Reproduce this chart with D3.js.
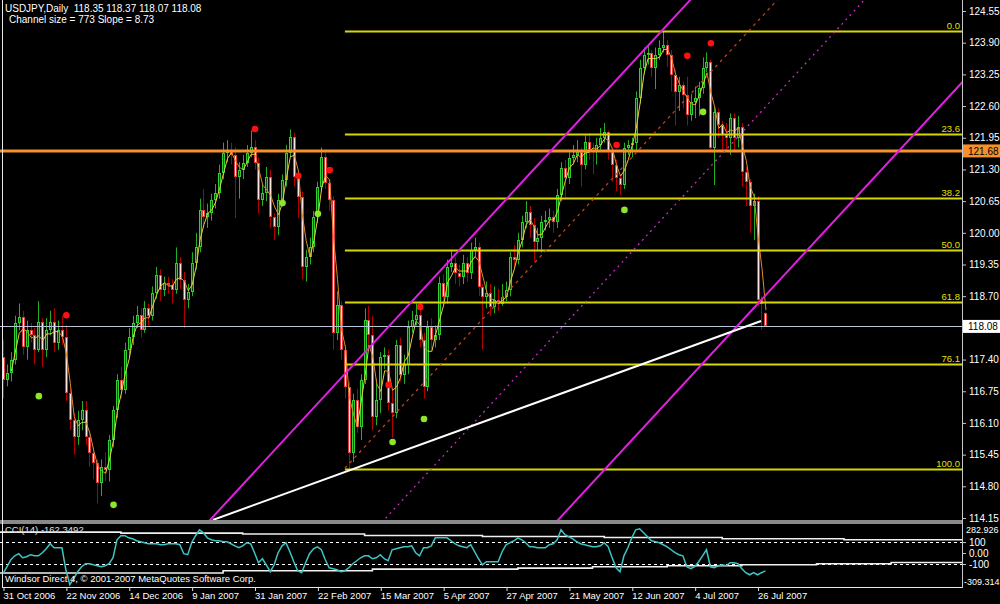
<!DOCTYPE html>
<html>
<head>
<meta charset="utf-8">
<script src="https://cdn.jsdelivr.net/npm/d3@7/dist/d3.min.js"></script>
<style>
  html, body { margin: 0; padding: 0; background: #000; }
  svg { display: block; }
  text { font-family: "Liberation Sans", Arial, sans-serif; }
</style>
</head>
<body>
<div id="chart"></div>
<script>
// ---- price data (USDJPY daily) ----
const opens = [117.45,116.98,117.12,117.39,118.15,118.27,117.66,118.01,117.90,117.60,118.17,117.60,118.01,118.17,117.74,118.01,117.86,116.71,116.16,115.81,116.16,116.37,115.81,115.48,115.28,114.87,115.20,115.13,115.75,116.37,116.98,116.78,117.60,117.86,118.15,118.31,118.01,118.46,118.29,118.77,119.14,118.83,118.97,118.93,118.83,119.38,119.03,118.62,118.79,119.38,119.71,120.47,120.32,120.41,120.67,120.82,121.23,121.64,121.70,121.60,121.15,121.29,121.43,121.64,121.76,121.43,120.67,120.82,121.15,120.32,120.12,120.67,121.08,121.64,121.97,121.15,120.74,119.30,119.50,119.71,120.32,120.94,121.56,121.02,120.67,117.95,118.52,117.60,116.84,115.48,116.57,116.02,116.98,118.21,117.90,116.22,116.57,117.45,117.50,116.51,116.30,117.70,117.08,117.29,118.07,118.21,118.31,117.80,116.84,118.07,117.80,117.90,118.97,118.68,119.30,119.38,119.18,119.09,119.38,119.18,119.65,119.71,118.89,118.68,118.77,118.48,118.62,118.55,118.68,118.83,119.50,119.45,119.85,120.22,120.43,120.16,119.81,119.89,120.22,120.26,120.32,120.22,120.78,121.33,121.12,121.54,121.60,121.66,121.39,121.86,121.70,121.66,121.80,121.95,122.07,121.66,121.39,121.12,120.98,121.74,121.80,121.85,122.77,123.38,123.65,123.69,123.38,123.65,123.79,123.85,123.65,123.24,122.89,123.03,122.83,122.42,122.68,122.77,122.97,123.38,123.50,121.74,122.48,122.21,122.01,121.95,122.36,121.95,122.17,121.25,121.04,120.55,120.65,118.62,118.35];
const highs = [117.80,117.30,117.55,118.30,118.55,118.40,118.20,118.15,118.05,118.60,118.25,118.25,118.40,118.45,118.20,118.30,118.10,116.80,116.30,116.35,116.55,116.55,115.95,115.60,115.35,115.35,115.50,115.85,116.45,117.10,117.25,117.75,118.05,118.30,118.50,118.45,118.60,118.55,118.90,119.30,119.25,119.10,119.10,119.05,119.70,119.50,119.20,118.95,119.60,120.00,120.70,120.90,120.60,120.80,121.00,121.40,121.85,121.90,121.85,121.75,121.45,121.60,121.80,122.10,121.90,121.55,121.00,121.35,121.30,120.40,120.80,121.20,121.80,122.12,122.05,121.25,120.85,119.65,119.90,120.45,121.05,121.75,121.70,121.10,120.75,118.80,118.60,117.70,116.95,116.70,116.80,117.10,118.45,118.50,118.30,117.00,117.55,117.65,117.60,116.80,117.80,117.85,117.50,118.20,118.40,118.55,118.60,117.95,118.20,118.25,118.10,119.10,119.15,119.45,119.65,119.50,119.35,119.55,119.50,119.80,119.90,119.80,118.95,119.00,118.95,118.90,118.85,118.95,119.00,119.60,119.75,120.00,120.35,120.65,120.55,120.30,120.10,120.35,120.45,120.50,120.45,120.90,121.45,121.50,121.65,121.80,121.90,121.75,122.00,122.05,121.85,121.95,122.15,122.25,122.10,121.75,121.50,121.20,121.85,121.90,121.95,122.90,123.55,123.80,123.85,123.75,123.80,123.95,124.14,123.95,123.75,123.35,123.20,123.10,123.20,122.85,123.00,123.10,123.60,123.70,123.55,122.60,122.55,122.30,122.25,122.45,122.45,122.40,122.25,121.35,121.10,120.80,120.75,118.70,118.37];
const lows = [116.60,116.85,116.95,117.30,118.00,117.50,117.40,117.75,117.30,117.55,117.25,117.45,117.90,117.55,117.60,117.70,116.55,115.95,115.45,115.65,115.95,115.65,115.20,114.95,114.45,114.60,114.90,114.90,115.60,116.20,116.60,116.70,117.45,117.70,118.05,117.85,117.95,118.10,118.20,118.65,118.60,118.70,118.75,118.55,118.75,118.85,118.05,118.45,118.70,119.25,119.60,120.15,120.10,120.25,120.50,120.70,121.10,121.45,121.40,120.30,120.70,121.10,121.35,121.55,121.30,120.40,120.55,120.65,120.10,119.85,119.95,120.55,120.95,121.55,120.95,120.30,119.05,119.00,119.35,119.60,120.20,120.85,120.90,120.45,117.60,117.80,117.40,116.60,115.15,115.30,115.90,115.75,116.90,117.70,115.95,116.05,116.30,117.20,116.35,115.80,116.20,116.95,116.90,117.10,117.95,118.10,117.65,116.60,116.75,117.60,117.65,117.80,118.50,118.55,119.20,118.95,118.90,118.95,119.00,119.05,119.50,118.70,117.60,118.45,118.30,118.35,118.40,118.50,118.60,118.70,119.30,119.35,119.70,120.10,119.90,119.40,119.65,119.60,120.05,120.10,120.00,120.10,120.65,120.70,121.00,121.40,121.45,120.95,121.30,121.50,121.20,121.40,121.70,121.85,121.50,121.05,120.85,120.78,120.90,121.60,121.55,121.70,122.65,123.25,123.45,123.20,122.95,123.55,123.70,123.40,122.90,122.20,122.50,122.55,122.20,122.30,122.35,122.40,122.85,123.30,121.65,120.98,121.95,121.70,121.70,121.60,121.70,121.75,120.95,120.55,120.00,119.85,118.50,118.01,118.07];
const closes = [116.98,117.12,117.39,118.15,118.27,117.66,118.01,117.90,117.60,118.17,117.60,118.01,118.17,117.74,118.01,117.86,116.71,116.16,115.81,116.16,116.37,115.81,115.48,115.28,114.87,115.20,115.13,115.75,116.37,116.98,116.78,117.60,117.86,118.15,118.31,118.01,118.46,118.29,118.77,119.14,118.83,118.97,118.93,118.83,119.38,119.03,118.62,118.79,119.38,119.71,120.47,120.32,120.41,120.67,120.82,121.23,121.64,121.70,121.60,121.15,121.29,121.43,121.64,121.76,121.43,120.67,120.82,121.15,120.32,120.12,120.67,121.08,121.64,121.97,121.15,120.74,119.30,119.50,119.71,120.32,120.94,121.56,121.02,120.67,117.95,118.52,117.60,116.84,115.48,116.57,116.02,116.98,118.21,117.90,116.22,116.57,117.45,117.50,116.51,116.30,117.70,117.08,117.29,118.07,118.21,118.31,117.80,116.84,118.07,117.80,117.90,118.97,118.68,119.30,119.38,119.18,119.09,119.38,119.18,119.65,119.71,118.89,118.68,118.77,118.48,118.62,118.55,118.68,118.83,119.50,119.45,119.85,120.22,120.43,120.16,119.81,119.89,120.22,120.26,120.32,120.22,120.78,121.33,121.12,121.54,121.60,121.66,121.39,121.86,121.70,121.66,121.80,121.95,122.07,121.66,121.39,121.12,120.98,121.74,121.80,121.85,122.77,123.38,123.65,123.69,123.38,123.65,123.79,123.85,123.65,123.24,122.89,123.03,122.83,122.42,122.68,122.77,122.97,123.38,123.50,121.74,122.48,122.21,122.01,121.95,122.36,121.95,122.17,121.25,121.04,120.55,120.65,118.62,118.54,118.08];

// CCI(14) values
const cciValues = [-188,-125,-61,-25,-6,-43,-34,-15,-25,-25,3,39,85,48,48,48,-152,-289,-234,-170,-125,-97,-97,-107,-116,-125,-116,-97,-43,121,158,158,139,130,112,103,94,85,85,85,76,76,85,85,85,76,-6,-15,94,158,212,185,139,121,112,112,103,103,85,66,48,66,94,85,3,-88,-52,-107,-170,-107,3,66,94,12,-79,-161,-179,-88,-6,39,57,30,-61,-134,-143,-152,-170,-161,-134,-97,-70,-43,-25,-25,-52,-43,-15,-52,-70,30,39,48,57,57,66,3,-25,48,48,66,139,139,139,139,112,85,66,57,48,76,12,-52,-107,-79,-79,-79,-79,12,76,94,112,139,121,94,57,57,48,48,48,76,85,121,212,167,148,130,103,85,76,66,57,57,66,94,57,-43,-134,-170,-25,48,139,212,221,185,148,112,103,94,76,57,30,3,-15,-25,-125,-143,-125,-79,-25,30,-125,-134,-116,-107,-116,-88,-88,-97,-143,-179,-198,-179,-198,-179,-162];
const cciUpperStepBars = [-1, 30, 61, 92, 122, 153, 183, 214, 245];
const cciUpperStepValues = [191, 182, 173, 160, 151, 142, 130, 121, 121];
const cciLowerStepBars = [-1, 56, 94, 131, 150, 169, 188, 207, 226, 245];
const cciLowerStepValues = [-182, -161, -146, -137, -125, -116, -107, -97, -86, -86];

// fractal-style dots
const redDotBars = [16, 64, 75, 83, 98, 106, 156, 174, 180];
const redDotPrices = [118.31, 122.13, 121.17, 121.29, 116.88, 118.48, 121.80, 123.63, 123.89];
const greenDotBars = [9, 28, 71, 80, 99, 107, 158, 178];
const greenDotPrices = [116.65, 114.42, 120.61, 120.39, 115.71, 116.18, 120.47, 122.48];

// objects
const fibLevels = [0, 23.6, 38.2, 50.0, 61.8, 76.1, 100];
const fibLabels = ["0.0", "23.6", "38.2", "50.0", "61.8", "76.1", "100.0"];
const fibHigh = 124.14, fibLow = 115.155, fibStartBar = 87;
const channelSlope = 0.0873, channelSize = 7.73;
const channelAnchor = {bar: 192.9, price: 118.62};
const whiteLine = [{bar: 53.4, price: 114.11}, {bar: 192.9, price: 118.19}];
const orangeLevel = 121.68;
const bidLevel = 118.08;

// axes
const priceTicks = [124.55, 123.90, 123.25, 122.60, 121.95, 121.30, 120.65, 120.00, 119.35, 118.70, 118.05, 117.40, 116.75, 116.10, 115.45, 114.80, 114.15];
const dateTickBars = [0, 16, 32, 48, 64, 80, 96, 112, 128, 144, 160, 176, 192];
const dateLabels = ["31 Oct 2006", "22 Nov 2006", "14 Dec 2006", "9 Jan 2007", "31 Jan 2007", "22 Feb 2007", "15 Mar 2007", "5 Apr 2007", "27 Apr 2007", "21 May 2007", "12 Jun 2007", "4 Jul 2007", "26 Jul 2007"];

const W = 1000, H = 604;
const axisX = 962, mainBottom = 520, cciTop = 522, cciBottom = 587;

const svg = d3.select("#chart").append("svg")
    .attr("width", W).attr("height", H)
    .style("background", "#000");

const x = d3.scaleLinear().domain([0, 194]).range([3, 3 + 194 * 3.93]);
const y = d3.scaleLinear().domain([114.15, 124.55]).range([518, 11]);
const yc = d3.scaleLinear().domain([-309.314, 282.926]).range([cciBottom, cciTop]);

const defs = svg.append("defs");
defs.append("clipPath").attr("id", "clipMain")
    .append("rect").attr("x", 0).attr("y", 0).attr("width", axisX).attr("height", mainBottom);
defs.append("clipPath").attr("id", "clipCci")
    .append("rect").attr("x", 0).attr("y", cciTop + 2).attr("width", axisX).attr("height", cciBottom - cciTop - 2);

const bars = opens.map((o, i) => ({i: i, o: o, h: highs[i], l: lows[i], c: closes[i]}));

// ---- candles ----
const main = svg.append("g").attr("clip-path", "url(#clipMain)");
const cg = main.append("g");
bars.forEach(d => {
    const cx = Math.round(x(d.i));
    const bull = d.c >= d.o;
    cg.append("line")
        .attr("x1", cx + 0.5).attr("x2", cx + 0.5)
        .attr("y1", y(d.h)).attr("y2", y(d.l))
        .attr("stroke", bull ? "#22b022" : "#b00000").attr("stroke-width", 1);
    const top = Math.round(y(Math.max(d.o, d.c)));
    const hgt = Math.max(1, Math.round(y(Math.min(d.o, d.c))) - top);
    cg.append("rect")
        .attr("x", cx - 1).attr("y", top).attr("width", 3).attr("height", hgt)
        .attr("fill", bull ? "#30d030" : "#e03a3a");
    if (hgt > 2) {
        cg.append("rect")
            .attr("x", cx).attr("y", top + 1).attr("width", 1).attr("height", hgt - 2)
            .attr("fill", bull ? "#0c480c" : "#ffe4e4");
    }
});

// moving average (3) through the candles
const ma = closes.map((c, i) => i < 2 ? null : d3.mean(closes.slice(i - 2, i + 1)));
for (let i = 3; i < ma.length; i++) {
    main.append("line")
        .attr("x1", x(i - 1) + 0.5).attr("y1", y(ma[i - 1]))
        .attr("x2", x(i) + 0.5).attr("y2", y(ma[i]))
        .attr("stroke", ma[i] >= ma[i - 1] ? "#e8cf3a" : "#de8a2c")
        .attr("stroke-width", 1);
}

// dots
main.selectAll(".rdot").data(redDotBars).enter().append("circle")
    .attr("cx", d => x(d) + 0.5).attr("cy", (d, k) => y(redDotPrices[k]))
    .attr("r", 3.3).attr("fill", "#ff1010");
main.selectAll(".gdot").data(greenDotBars).enter().append("circle")
    .attr("cx", d => x(d) + 0.5).attr("cy", (d, k) => y(greenDotPrices[k]))
    .attr("r", 3.3).attr("fill", "#8ee62a");

// ---- objects ----
const fibPrice = lvl => fibHigh - lvl / 100 * (fibHigh - fibLow);
fibLevels.forEach((lvl, k) => {
    const py = Math.round(y(fibPrice(lvl))) + 0.5;
    main.append("line").attr("x1", x(fibStartBar)).attr("x2", axisX)
        .attr("y1", py).attr("y2", py)
        .attr("stroke", "#d8d800").attr("stroke-width", 2);
    main.append("text").attr("x", 960).attr("y", py - 3)
        .attr("text-anchor", "end").attr("fill", "#e0e000")
        .style("font-size", "9.5px").text(fibLabels[k]);
});

main.append("line").attr("x1", 0).attr("x2", axisX)
    .attr("y1", y(orangeLevel)).attr("y2", y(orangeLevel))
    .attr("stroke", "#f5902a").attr("stroke-width", 3);
main.append("line").attr("x1", 0).attr("x2", axisX)
    .attr("y1", Math.round(y(bidLevel)) + 0.5).attr("y2", Math.round(y(bidLevel)) + 0.5)
    .attr("stroke", "#b8c6d8").attr("stroke-width", 1);

const chanPrice = (bar, frac) => channelAnchor.price + channelSlope * (bar - channelAnchor.bar) + frac * channelSize;
const chanLine = (frac, fromBar, color, width, dash) => {
    main.append("line")
        .attr("x1", x(fromBar)).attr("y1", y(chanPrice(fromBar, frac)))
        .attr("x2", x(260)).attr("y2", y(chanPrice(260, frac)))
        .attr("stroke", color).attr("stroke-width", width)
        .attr("stroke-dasharray", dash);
};
chanLine(0, 0, "#e020e0", 2, null);
chanLine(1, 0, "#e020e0", 2, null);
chanLine(0.5, 0, "#d030d0", 1.2, "2,4");
chanLine(0.75, fibStartBar, "#cc4422", 1.2, "3,4");

main.append("line")
    .attr("x1", x(whiteLine[0].bar)).attr("y1", y(whiteLine[0].price))
    .attr("x2", x(whiteLine[1].bar)).attr("y2", y(whiteLine[1].price))
    .attr("stroke", "#ffffff").attr("stroke-width", 2);

// ---- frame ----
svg.append("rect").attr("x", 0).attr("y", mainBottom).attr("width", axisX).attr("height", 4).attr("fill", "#8a8a8a");
svg.append("line").attr("x1", 2.5).attr("x2", 2.5).attr("y1", 0).attr("y2", cciBottom).attr("stroke", "#e8e8e8");
svg.append("line").attr("x1", axisX + 0.5).attr("x2", axisX + 0.5).attr("y1", 0).attr("y2", cciBottom + 1).attr("stroke", "#c8c8c8");
svg.append("line").attr("x1", 2).attr("x2", axisX).attr("y1", cciBottom + 0.5).attr("y2", cciBottom + 0.5).attr("stroke", "#e8e8e8");

// ---- price axis ----
const pAxis = svg.append("g").attr("transform", `translate(${axisX},0)`)
    .call(d3.axisRight(y).tickValues(priceTicks).tickFormat(d3.format(".2f")).tickSize(4).tickPadding(3));
pAxis.select(".domain").remove();
pAxis.selectAll("line").attr("stroke", "#c8c8c8");
pAxis.selectAll("text").attr("fill", "#ffffff").style("font-size", "10px")
    .style("font-family", "'Liberation Sans', Arial, sans-serif");

const tag = (price, bg) => {
    const ty = y(price);
    svg.append("rect").attr("x", axisX + 1).attr("y", ty - 6.5).attr("width", 37).attr("height", 13).attr("fill", bg);
    svg.append("text").attr("x", axisX + 6).attr("y", ty + 3.8).attr("fill", "#000")
        .style("font-size", "10px").text(d3.format(".2f")(price));
};
tag(orangeLevel, "#f5902a");
tag(bidLevel, "#ffffff");

// ---- CCI panel ----
const cci = svg.append("g").attr("clip-path", "url(#clipCci)");
[100, -100].forEach(v => {
    cci.append("line").attr("x1", 0).attr("x2", axisX)
        .attr("y1", Math.round(yc(v)) + 0.5).attr("y2", Math.round(yc(v)) + 0.5)
        .attr("stroke", "#ffffff").attr("stroke-dasharray", "3,3");
});
const stepLine = d3.line().x(d => x(d[0])).y(d => yc(d[1])).curve(d3.curveStepAfter);
cci.append("path").datum(cciUpperStepBars.map((b, k) => [b, cciUpperStepValues[k]]))
    .attr("d", stepLine).attr("fill", "none").attr("stroke", "#f0f0f0").attr("stroke-width", 1.6);
cci.append("path").datum(cciLowerStepBars.map((b, k) => [b, cciLowerStepValues[k]]))
    .attr("d", stepLine).attr("fill", "none").attr("stroke", "#f0f0f0").attr("stroke-width", 1.6);
cci.append("path").datum(cciValues)
    .attr("d", d3.line().x((d, i) => x(i)).y(d => yc(d)))
    .attr("fill", "none").attr("stroke", "#3ec4c4").attr("stroke-width", 1.5);

const cAxis = svg.append("g").attr("transform", `translate(${axisX},0)`)
    .call(d3.axisRight(yc).tickValues([100, 0, -100]).tickFormat(d => d === 0 ? "0.00" : String(d)).tickSize(4).tickPadding(3));
cAxis.select(".domain").remove();
cAxis.selectAll("line").attr("stroke", "#c8c8c8");
cAxis.selectAll("text").attr("fill", "#ffffff").style("font-size", "10px")
    .style("font-family", "'Liberation Sans', Arial, sans-serif");
svg.append("text").attr("x", axisX + 4).attr("y", 533).attr("fill", "#fff").style("font-size", "9px").text("282.926");
svg.append("text").attr("x", axisX + 2).attr("y", 585).attr("fill", "#fff").style("font-size", "9px").text("-309.314");

svg.append("text").attr("x", 5).attr("y", 533).attr("fill", "#e0e0e0").style("font-size", "9.5px").text("CCI(14) -162.3492");
svg.append("text").attr("x", 5).attr("y", 582).attr("fill", "#ffffff").style("font-size", "9.5px")
    .text("Windsor Direct 4, \u00a9 2001-2007 MetaQuotes Software Corp.");

// ---- date axis ----
const dAxis = svg.append("g").attr("transform", `translate(0,${cciBottom})`)
    .call(d3.axisBottom(x).tickValues(dateTickBars).tickFormat((d, k) => dateLabels[k]).tickSize(4).tickPadding(2));
dAxis.select(".domain").remove();
dAxis.selectAll("line").attr("stroke", "#e0e0e0").attr("transform", "translate(0.5,0)");
dAxis.selectAll("text").attr("fill", "#ffffff").attr("text-anchor", "start").attr("x", 0)
    .attr("y", 5).style("font-size", "9.5px")
    .style("font-family", "'Liberation Sans', Arial, sans-serif");

// ---- header ----
svg.append("text").attr("x", 5).attr("y", 12).attr("fill", "#fff").style("font-size", "10px")
    .attr("xml:space", "preserve").style("white-space", "pre")
    .text("USDJPY,Daily  118.35 118.37 118.07 118.08");
svg.append("text").attr("x", 9).attr("y", 23).attr("fill", "#fff").style("font-size", "10px")
    .text("Channel size = 773 Slope = 8.73");
</script>
</body>
</html>
